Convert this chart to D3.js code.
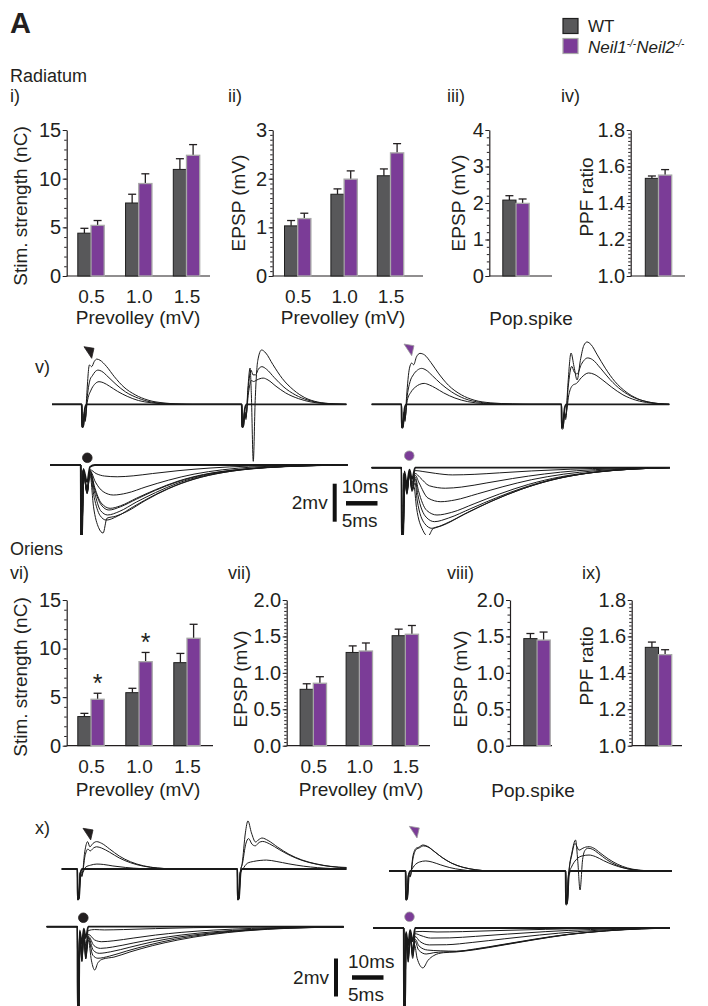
<!DOCTYPE html>
<html>
<head>
<meta charset="utf-8">
<script src="https://cdn.jsdelivr.net/npm/d3@7"></script>
<style>
  body { margin: 0; background: #fff; }
  svg text { font-family: "Liberation Sans", Arial, Helvetica, sans-serif; fill: #231f20; }
</style>
</head>
<body>
<svg id="fig" width="708" height="1006"></svg>
<script>
// ---------- bar chart values ----------
const doses = ["0.5", "1.0", "1.5"];
const popCat = ["Pop.spike"];

// Radiatum
const radStimWT = [4.4, 7.5, 10.95], radStimWTErr = [0.5, 0.9, 1.1];
const radStimKO = [5.2, 9.5, 12.4],  radStimKOErr = [0.5, 1.0, 1.1];
const radEpspWT = [1.03, 1.68, 2.06], radEpspWTErr = [0.11, 0.11, 0.14];
const radEpspKO = [1.18, 1.99, 2.53], radEpspKOErr = [0.11, 0.17, 0.19];
const radPopWT = [2.08], radPopWTErr = [0.12];
const radPopKO = [1.99], radPopKOErr = [0.12];
const radPpfWT = [1.535], radPpfWTErr = [0.013];
const radPpfKO = [1.553], radPpfKOErr = [0.03];

// Oriens
const oriStimWT = [3.0, 5.46, 8.55], oriStimWTErr = [0.33, 0.45, 0.95];
const oriStimKO = [4.78, 8.65, 11.06], oriStimKOErr = [0.62, 0.95, 1.44];
const oriStimStars = ["0.5", "1.0"];
const oriEpspWT = [0.774, 1.28, 1.51], oriEpspWTErr = [0.076, 0.09, 0.09];
const oriEpspKO = [0.857, 1.30, 1.53], oriEpspKOErr = [0.09, 0.11, 0.12];
const oriPopWT = [1.47], oriPopWTErr = [0.07];
const oriPopKO = [1.45], oriPopKOErr = [0.11];
const oriPpfWT = [1.54], oriPpfWTErr = [0.029];
const oriPpfKO = [1.50], oriPpfKOErr = [0.027];

// tick labels
const stimTicks = [0, 5, 10, 15];
const radEpspTicks = [0, 1, 2, 3];
const radPopTicks = [0, 1, 2, 3, 4];
const ppfTicks = [1.0, 1.2, 1.4, 1.6, 1.8];
const oriEpspTicks = [0, 0.5, 1.0, 1.5, 2.0];

// ---------- example traces: [time ms, mV] ----------
// Radiatum, paired pulse, WT
const radTopWT = [
  [[0,0],[9.3,0],[9.4,-1.2],[9.8,-1.2],[10.1,-0.5],[10.4,-0.9],[10.8,0.3],[11.7,2.07],[12.4,1.98],[13.2,2.25],[14,2.38],[15,2.32],[17,2.0],[19.5,1.45],[22.5,0.9],[26,0.5],[30,0.22],[35,0.07],[42,0],[59.3,0],[59.4,-1.2],[59.8,-1.2],[60.2,-0.4],[60.6,-0.8],[61.2,0.8],[61.9,1.91],[62.3,0.5],[62.9,-3.0],[63.5,0.2],[64.3,2.3],[65.5,2.86],[66.8,2.7],[69,2.1],[72,1.35],[75.5,0.75],[79,0.35],[83,0.12],[88,0.02],[92,0]],
  [[0,0],[9.3,0],[9.4,-1.2],[9.8,-1.1],[10.1,-0.5],[10.4,-0.8],[10.9,0.2],[11.9,1.3],[12.6,1.5],[13.5,1.72],[14.4,1.8],[15.5,1.74],[17.5,1.45],[20,1.05],[23,0.65],[27,0.32],[31,0.12],[37,0.03],[44,0],[59.3,0],[59.4,-1.2],[59.8,-1.1],[60.2,-0.4],[60.6,-0.7],[61.3,0.8],[62.2,1.8],[62.8,1.55],[63.6,1.55],[64.5,1.85],[65.6,1.98],[67,1.85],[69.5,1.4],[72.5,0.9],[76,0.5],[80,0.22],[85,0.06],[92,0]],
  [[0,0],[9.3,0],[9.4,-1.1],[9.8,-1.0],[10.1,-0.4],[10.4,-0.7],[11,0.1],[12.2,0.75],[13.3,1.05],[14.7,1.19],[16,1.14],[18,0.95],[20.5,0.68],[23.5,0.42],[27,0.2],[31,0.08],[37,0.01],[44,0],[59.3,0],[59.4,-1.1],[59.8,-1.0],[60.2,-0.4],[60.6,-0.6],[61.4,0.6],[62.3,1.25],[63,1.2],[64,1.28],[65,1.35],[66,1.38],[67.5,1.28],[70,0.95],[73,0.6],[77,0.3],[81,0.12],[86,0.03],[92,0]],
  [[0,0],[9.3,0],[9.4,-1.2],[9.8,-1.1],[10.3,-0.2],[10.8,0],[59.3,0],[59.4,-1.2],[59.8,-1.1],[60.3,-0.2],[60.8,0],[92,0]]
];
// Radiatum, paired pulse, Neil1/Neil2 KO
const radTopKO = [
  [[0,0],[9.3,0],[9.4,-1.25],[9.8,-1.25],[10.1,-0.5],[10.4,-0.9],[10.9,0.4],[11.8,1.9],[12.5,2.17],[13.1,2.08],[14,2.5],[15.1,2.68],[16.5,2.6],[18.5,2.2],[21,1.6],[24,1.0],[28,0.5],[32,0.22],[37,0.08],[44,0.02],[50,0],[59.3,0],[59.4,-1.3],[59.8,-1.3],[60.2,-0.5],[60.6,-0.8],[61.3,1.0],[62.3,2.7],[63.2,2.0],[64.2,1.28],[65.2,2.3],[66.3,3.1],[67.3,3.28],[68.5,3.15],[70.5,2.6],[73,1.9],[76,1.2],[79.5,0.65],[83,0.3],[87,0.1],[93,0]],
  [[0,0],[9.3,0],[9.4,-1.2],[9.8,-1.2],[10.1,-0.5],[10.4,-0.8],[11,0.3],[12,1.2],[13,1.55],[14.3,1.8],[15.6,1.89],[17,1.8],[19,1.5],[21.5,1.1],[25,0.65],[29,0.3],[34,0.1],[40,0.02],[48,0],[59.3,0],[59.4,-1.25],[59.8,-1.2],[60.2,-0.5],[60.6,-0.7],[61.4,0.9],[62.5,2.0],[63.3,1.7],[64.2,1.6],[65.5,2.1],[67.5,2.44],[69,2.35],[71.5,1.9],[74.5,1.3],[78,0.75],[82,0.35],[86.5,0.12],[93,0]],
  [[0,0],[9.3,0],[9.4,-1.2],[9.8,-1.1],[10.1,-0.4],[10.4,-0.7],[11.1,0.2],[12.3,0.65],[13.6,0.9],[15,1.05],[16.4,1.1],[18,1.02],[20,0.85],[22.5,0.6],[26,0.33],[30,0.14],[35,0.04],[42,0],[59.3,0],[59.4,-1.2],[59.8,-1.1],[60.2,-0.4],[60.6,-0.6],[61.6,0.5],[62.8,1.0],[64,1.1],[65.5,1.4],[67.8,1.65],[69.5,1.58],[72,1.3],[75,0.9],[78.5,0.5],[82.5,0.22],[87,0.07],[93,0]],
  [[0,0],[9.3,0],[9.4,-1.2],[9.8,-1.1],[10.3,-0.2],[10.8,0],[59.3,0],[59.4,-1.2],[59.8,-1.1],[60.3,-0.2],[60.8,0],[93,0]]
];
// Radiatum, input-output field responses, WT
const radBotWT = [
  [[0,0],[4.8,0],[4.85,-4],[5.0,-4],[5.2,-0.2],[5.8,-0.9],[6.25,-0.1],[7,0],[46.5,0]],
  [[0,0],[4.8,0],[4.85,-4],[5.0,-4],[5.2,-0.25],[5.8,-1.2],[6.25,-0.25],[7.2,-0.45],[8.5,-0.58],[10.5,-0.62],[13,-0.57],[16,-0.45],[20,-0.3],[25,-0.16],[31,-0.06],[38,-0.02],[46.5,0]],
  [[0,0],[4.8,0],[4.85,-4],[5.0,-4],[5.2,-0.3],[5.8,-1.3],[6.25,-0.3],[7.1,-0.9],[8.3,-1.4],[9.9,-1.58],[12,-1.48],[15,-1.15],[18.5,-0.8],[22.5,-0.48],[27,-0.25],[32,-0.1],[39,-0.03],[46.5,0]],
  [[0,0],[4.8,0],[4.85,-4],[5.0,-4],[5.2,-0.3],[5.8,-1.4],[6.25,-0.3],[7.0,-1.2],[8.0,-2.0],[9.4,-2.28],[11,-2.15],[13.5,-1.75],[16.5,-1.3],[20,-0.85],[24,-0.5],[28.5,-0.27],[34,-0.12],[40,-0.04],[46.5,0]],
  [[0,0],[4.8,0],[4.85,-4],[5.0,-4],[5.2,-0.3],[5.8,-1.4],[6.25,-0.35],[7.0,-1.3],[8.0,-2.1],[9.2,-2.37],[11,-2.2],[13.5,-1.8],[16.5,-1.33],[20,-0.88],[24,-0.52],[28.5,-0.28],[34,-0.12],[40,-0.04],[46.5,0]],
  [[0,0],[4.8,0],[4.85,-4],[5.0,-4],[5.2,-0.3],[5.8,-1.45],[6.25,-0.4],[7.0,-1.5],[7.9,-2.4],[9.0,-2.63],[10.8,-2.45],[13.5,-1.95],[16.5,-1.45],[20,-0.95],[24,-0.56],[28.5,-0.3],[34,-0.13],[40,-0.04],[46.5,0]],
  [[0,0],[4.8,0],[4.85,-4],[5.0,-4],[5.2,-0.35],[5.8,-1.5],[6.25,-0.45],[6.9,-1.7],[7.8,-2.65],[8.8,-2.9],[10.5,-2.7],[13,-2.2],[16.5,-1.55],[20,-1.02],[24,-0.6],[28.5,-0.32],[34,-0.14],[40,-0.05],[46.5,0]],
  [[0,0],[4.8,0],[4.85,-4],[5.0,-4],[5.2,-0.35],[5.8,-1.5],[6.25,-0.5],[6.8,-2.2],[7.6,-3.3],[8.3,-3.58],[8.9,-2.8],[10.2,-2.7],[12,-2.45],[15,-1.85],[18.5,-1.25],[22.5,-0.75],[27,-0.4],[32,-0.18],[38,-0.06],[46.5,0]]
];
// Radiatum, input-output field responses, KO
const radBotKO = [
  [[0,0],[4.65,0],[4.7,-4],[4.9,-4],[5.1,-0.2],[5.5,-0.9],[5.9,-0.1],[6.3,-0.6],[6.8,0],[8,0],[46.6,0]],
  [[0,0],[4.65,0],[4.7,-4],[4.9,-4],[5.1,-0.3],[5.5,-1.0],[5.9,-0.2],[6.3,-0.8],[6.8,-0.15],[8,-0.2],[10,-0.3],[12.6,-0.38],[16,-0.35],[20,-0.27],[25,-0.17],[31,-0.08],[38,-0.02],[46.6,0]],
  [[0,0],[4.65,0],[4.7,-4],[4.9,-4],[5.1,-0.3],[5.5,-1.1],[5.9,-0.2],[6.3,-0.9],[6.8,-0.3],[7.5,-0.5],[9,-0.95],[11.5,-1.08],[14,-1.02],[18,-0.8],[22,-0.57],[27,-0.33],[32,-0.16],[38,-0.06],[46.6,0]],
  [[0,0],[4.65,0],[4.7,-4],[4.9,-4],[5.1,-0.3],[5.5,-1.2],[5.9,-0.25],[6.3,-1.0],[6.8,-0.4],[7.4,-0.8],[8.8,-1.6],[10.8,-1.79],[13,-1.7],[16.5,-1.38],[20.5,-1.0],[25,-0.63],[30,-0.34],[35,-0.16],[41,-0.05],[46.6,0]],
  [[0,0],[4.65,0],[4.7,-4],[4.9,-4],[5.1,-0.3],[5.5,-1.25],[5.9,-0.3],[6.3,-1.1],[6.8,-0.5],[7.3,-1.2],[8.6,-2.25],[10.2,-2.49],[12.5,-2.35],[16,-1.9],[20,-1.38],[24.5,-0.88],[29.5,-0.48],[35,-0.22],[41,-0.07],[46.6,0]],
  [[0,0],[4.65,0],[4.7,-4],[4.9,-4],[5.1,-0.3],[5.5,-1.3],[5.9,-0.3],[6.3,-1.15],[6.8,-0.6],[7.2,-1.4],[8.5,-2.6],[9.8,-2.84],[12,-2.65],[15.5,-2.15],[19.5,-1.58],[24,-1.02],[29,-0.56],[34.5,-0.26],[40.5,-0.08],[46.6,0]],
  [[0,0],[4.65,0],[4.7,-4],[4.9,-4],[5.1,-0.35],[5.5,-1.35],[5.9,-0.35],[6.3,-1.2],[6.8,-0.8],[7.1,-1.7],[8.3,-2.95],[9.4,-3.19],[11.5,-2.95],[15,-2.35],[19,-1.72],[23.5,-1.12],[28.5,-0.62],[34,-0.28],[40,-0.09],[46.6,0]],
  [[0,0],[4.65,0],[4.7,-4],[4.9,-4],[5.1,-0.35],[5.5,-1.4],[5.9,-0.4],[6.3,-1.25],[6.6,-1.0],[7.0,-2.1],[8.0,-3.3],[8.8,-3.6],[9.6,-3.2],[11,-3.05],[14.5,-2.45],[18.5,-1.8],[23,-1.18],[28,-0.66],[33.5,-0.3],[39.5,-0.1],[46.6,0]]
];
// Oriens, paired pulse, WT
const oriTopWT = [
  [[0,0],[4.9,0],[5.0,-1.63],[5.4,-1.6],[5.8,-0.2],[6.3,-0.4],[7.2,0.9],[8.1,1.44],[8.8,1.17],[9.8,1.35],[10.9,1.44],[12.5,1.35],[15,1.05],[18,0.68],[21.5,0.38],[25.5,0.17],[30,0.05],[36,0],[54.9,0],[55.0,-1.63],[55.4,-1.6],[55.8,-0.2],[56.4,0.3],[57.4,1.9],[58.2,2.53],[59.3,1.9],[60.6,1.42],[61.6,1.55],[62.6,1.63],[64.5,1.5],[67.5,1.15],[71,0.78],[75,0.48],[79.5,0.27],[84,0.14],[89,0.08]],
  [[0,0],[4.9,0],[5.0,-1.6],[5.4,-1.55],[5.8,-0.2],[6.3,-0.35],[7.3,0.7],[8.2,1.05],[8.9,0.95],[9.9,1.1],[10.9,1.17],[12.5,1.1],[15,0.88],[18,0.58],[21.5,0.33],[25.5,0.15],[30,0.05],[36,0],[54.9,0],[55.0,-1.6],[55.4,-1.55],[55.8,-0.2],[56.5,0.3],[57.5,1.3],[58.4,1.6],[59.5,1.3],[60.5,1.22],[61.7,1.4],[62.8,1.45],[65,1.32],[68,1.02],[71.5,0.7],[75.5,0.43],[80,0.24],[84.5,0.12],[89,0.06]],
  [[0,0],[4.9,0],[5.0,-1.55],[5.4,-1.5],[5.8,-0.2],[6.4,-0.2],[7.5,0.1],[9,0.2],[11,0.26],[13,0.24],[16,0.16],[20,0.08],[25,0.02],[30,0],[54.9,0],[55.0,-1.55],[55.4,-1.5],[55.8,-0.2],[56.6,0],[58,0.3],[60,0.4],[62,0.45],[64,0.47],[67,0.4],[71,0.27],[75.5,0.15],[80,0.07],[85,0.02],[89,0]],
  [[0,0],[4.9,0],[5.0,-1.6],[5.4,-1.5],[5.9,-0.2],[6.4,0],[54.9,0],[55.0,-1.6],[55.4,-1.5],[55.9,-0.2],[56.4,0],[89,0]]
];
// Oriens, paired pulse, KO
const oriTopKO = [
  [[0,0],[5.2,0],[5.3,-1.53],[5.7,-1.5],[6.1,-0.2],[6.6,-0.3],[7.5,0.8],[8.5,1.2],[9.3,1.25],[10.6,1.37],[12,1.3],[14,1.05],[16.5,0.72],[19.5,0.42],[23,0.2],[27,0.07],[32,0],[55.2,0],[55.3,-1.79],[55.7,-1.75],[56.1,-0.3],[57.2,1.0],[58.3,1.63],[59.0,0.5],[59.7,-1.0],[60.5,0.6],[61.3,1.1],[62.2,1.2],[63.5,1.15],[65.5,0.92],[68,0.6],[71,0.32],[74,0.14],[77,0.05],[82,0],[88.4,0]],
  [[0,0],[5.2,0],[5.3,-1.5],[5.7,-1.45],[6.1,-0.2],[6.6,-0.3],[7.6,0.75],[8.6,1.15],[9.5,1.22],[10.8,1.32],[12.2,1.26],[14.2,1.02],[16.7,0.7],[19.7,0.4],[23.2,0.19],[27.2,0.06],[32,0],[55.2,0],[55.3,-1.75],[55.7,-1.7],[56.1,-0.3],[57.2,0.9],[58.1,1.45],[59.4,1.1],[60.6,1.2],[61.5,1.26],[62.6,1.28],[64,1.2],[66,0.95],[68.5,0.64],[71.5,0.35],[74.5,0.16],[78,0.05],[83,0],[88.4,0]],
  [[0,0],[5.2,0],[5.3,-1.5],[5.7,-1.45],[6.1,-0.2],[6.8,0],[8,0.3],[9.5,0.47],[11.5,0.53],[13.5,0.47],[16,0.33],[19,0.18],[22.5,0.07],[27,0],[55.2,0],[55.3,-1.7],[55.7,-1.65],[56.1,-0.2],[57,0.2],[58.5,0.6],[60.5,0.8],[62.5,0.84],[64.5,0.76],[67,0.55],[70,0.33],[73.5,0.15],[77,0.05],[82,0],[88.4,0]],
  [[0,0],[5.2,0],[5.3,-1.5],[5.7,-1.4],[6.2,-0.2],[6.7,0],[55.2,0],[55.3,-1.7],[55.7,-1.6],[56.2,-0.2],[56.7,0],[88.4,0]]
];
// Oriens, input-output field responses, WT
const oriBotWT = [
  [[0,0],[4.8,0],[4.84,-4.5],[5.0,-4.5],[5.15,-0.2],[5.5,-0.9],[5.8,-0.1],[6.1,-0.6],[6.5,0],[8,0],[46.4,0]],
  [[0,0],[4.8,0],[4.84,-4.5],[5.0,-4.5],[5.15,-0.3],[5.5,-1.2],[5.8,-0.3],[6.1,-1.0],[6.5,-0.2],[7.5,-0.15],[9,-0.17],[12,-0.15],[17,-0.1],[23,-0.05],[30,-0.02],[46.4,0]],
  [[0,0],[4.8,0],[4.84,-4.5],[5.0,-4.5],[5.15,-0.3],[5.5,-1.4],[5.8,-0.4],[6.1,-1.2],[6.5,-0.4],[7.5,-0.7],[8.6,-0.79],[10.5,-0.74],[13.5,-0.6],[17,-0.44],[21,-0.3],[26,-0.18],[32,-0.09],[39,-0.03],[46.4,-0.01]],
  [[0,0],[4.8,0],[4.84,-4.5],[5.0,-4.5],[5.15,-0.3],[5.5,-1.6],[5.8,-0.45],[6.1,-1.4],[6.5,-0.5],[7.4,-1.0],[8.4,-1.14],[10.3,-1.07],[13.5,-0.86],[17,-0.64],[21,-0.44],[26,-0.27],[32,-0.14],[39,-0.05],[46.4,-0.01]],
  [[0,0],[4.8,0],[4.84,-4.5],[5.0,-4.5],[5.15,-0.35],[5.5,-1.7],[5.8,-0.45],[6.1,-1.55],[6.5,-0.55],[7.3,-1.25],[8.2,-1.4],[10,-1.32],[13,-1.08],[16.5,-0.8],[20.5,-0.55],[25.5,-0.34],[31.5,-0.17],[38.5,-0.06],[46.4,-0.02]],
  [[0,0],[4.8,0],[4.84,-4.5],[5.0,-4.5],[5.15,-0.35],[5.5,-1.8],[5.8,-0.45],[6.1,-1.66],[6.5,-0.6],[7.2,-1.5],[8.0,-1.66],[9.8,-1.55],[12.5,-1.28],[16,-0.96],[20,-0.66],[25,-0.4],[31,-0.2],[38,-0.07],[46.4,-0.02]],
  [[0,0],[4.8,0],[4.84,-4.5],[5.0,-4.5],[5.15,-0.35],[5.5,-1.84],[5.8,-0.44],[6.1,-1.7],[6.5,-0.7],[7.0,-1.8],[7.5,-2.28],[8.0,-1.9],[8.8,-1.7],[10.5,-1.6],[13,-1.33],[16.5,-1.0],[20.5,-0.7],[25.5,-0.42],[31,-0.22],[38,-0.08],[46.4,-0.02]]
];
// Oriens, input-output field responses, KO
const oriBotKO = [
  [[0,0],[4.8,0],[4.84,-4.5],[5.0,-4.5],[5.15,-0.2],[5.5,-0.9],[5.8,-0.1],[6.2,-0.7],[6.6,0],[8,0],[46.4,0]],
  [[0,0],[4.8,0],[4.84,-4.5],[5.0,-4.5],[5.15,-0.3],[5.5,-1.3],[5.8,-0.3],[6.2,-1.1],[6.6,-0.2],[7.8,-0.18],[10,-0.21],[14,-0.19],[20,-0.13],[27,-0.07],[35,-0.02],[46.4,0]],
  [[0,0],[4.8,0],[4.84,-4.5],[5.0,-4.5],[5.15,-0.3],[5.5,-1.4],[5.8,-0.35],[6.2,-1.2],[6.6,-0.3],[7.5,-0.4],[9,-0.53],[12,-0.52],[16,-0.44],[21,-0.32],[27,-0.19],[34,-0.08],[41,-0.02],[46.4,0]],
  [[0,0],[4.8,0],[4.84,-4.5],[5.0,-4.5],[5.15,-0.3],[5.5,-1.5],[5.8,-0.4],[6.2,-1.3],[6.6,-0.45],[7.3,-0.7],[8.8,-0.89],[11.5,-0.88],[15.5,-0.76],[20.5,-0.57],[26,-0.37],[32,-0.19],[38,-0.07],[46.4,0]],
  [[0,0],[4.8,0],[4.84,-4.5],[5.0,-4.5],[5.15,-0.35],[5.5,-1.6],[5.8,-0.45],[6.2,-1.4],[6.6,-0.6],[7.2,-0.95],[8.5,-1.16],[10.5,-1.2],[13,-1.22],[16,-1.1],[20,-0.88],[25,-0.6],[30.5,-0.33],[36.5,-0.14],[42,-0.04],[46.4,0]],
  [[0,0],[4.8,0],[4.84,-4.5],[5.0,-4.5],[5.15,-0.35],[5.5,-1.7],[5.8,-0.5],[6.2,-1.5],[6.6,-0.7],[7.1,-1.15],[8.3,-1.37],[9.5,-1.3],[11,-1.26],[13,-1.24],[16,-1.12],[20,-0.9],[25,-0.62],[30.5,-0.34],[36.5,-0.15],[42,-0.04],[46.4,0]],
  [[0,0],[4.8,0],[4.84,-4.5],[5.0,-4.5],[5.15,-0.4],[5.5,-1.8],[5.8,-0.55],[6.2,-1.6],[6.5,-0.9],[6.9,-1.6],[7.8,-2.1],[8.6,-1.7],[9.5,-1.45],[11,-1.3],[13,-1.26],[16,-1.14],[20,-0.92],[25,-0.63],[30.5,-0.35],[36.5,-0.15],[42,-0.05],[46.4,0]]
];

// marker positions on the traces [time ms, mV]
const radArrowWT = [12.4, 2.42], radArrowKO = [12.5, 2.56];
const radDotWT = [5.83, 0.38], radDotKO = [5.87, 0.63];
const oriArrowWT = [9.06, 1.53], oriArrowKO = [8.75, 1.74];
const oriDotWT = [5.72, 0.47], oriDotKO = [5.7, 0.59];

// ---------- drawing ----------
const WT_FILL = "#58585a", WT_STROKE = "#1f1f1f";
const KO_FILL = "#7b3c97", KO_STROKE = "#a8a8a8";
const INK = "#231f20";
const FONT = '"Liberation Sans", Arial, Helvetica, sans-serif';

const svg = d3.select("#fig");

// panel / section labels
const labels = [
  ["Radiatum", 10, 82], ["i)", 10, 102], ["ii)", 228, 102], ["iii)", 447, 102], ["iv)", 561, 102],
  ["v)", 35, 373],
  ["Oriens", 10, 555], ["vi)", 10, 579], ["vii)", 228, 579], ["viii)", 447, 579], ["ix)", 582, 579],
  ["x)", 35, 834]
];
svg.append("text").attr("x", 10).attr("y", 33).attr("font-size", 29).attr("font-weight", "bold").text("A");
svg.selectAll("text.lab").data(labels).join("text").attr("class", "lab")
  .attr("x", d => d[1]).attr("y", d => d[2]).attr("font-size", 18).text(d => d[0]);

// legend
const legend = svg.append("g");
legend.append("rect").attr("x", 563).attr("y", 18.5).attr("width", 15).attr("height", 15)
  .attr("fill", WT_FILL).attr("stroke", WT_STROKE).attr("stroke-width", 1.2);
legend.append("rect").attr("x", 563).attr("y", 38.5).attr("width", 15).attr("height", 15)
  .attr("fill", KO_FILL).attr("stroke", KO_STROKE).attr("stroke-width", 1.2);
legend.append("text").attr("x", 588).attr("y", 32).attr("font-size", 17).text("WT");
const koLab = legend.append("text").attr("x", 588).attr("y", 52.5).attr("font-size", 17).attr("font-style", "italic");
koLab.append("tspan").text("Neil1");
koLab.append("tspan").attr("font-size", 10).attr("dy", -6).text("-/-");
koLab.append("tspan").attr("dy", 6).text("Neil2");
koLab.append("tspan").attr("font-size", 10).attr("dy", -6).text("-/-");

function barPanel(p) {
  const g = svg.append("g");
  const y = d3.scaleLinear().domain(p.yDomain).range([p.bottom, p.top]);
  const x = d3.scalePoint().domain(p.cats).range(p.centers);
  const bw = 13.2;

  // minor ticks
  g.append("g").attr("transform", `translate(${p.axisX},0)`)
    .call(d3.axisLeft(y).tickValues(p.minor).tickSize(2.5).tickFormat(""))
    .call(s => s.select(".domain").remove())
    .call(s => s.selectAll("line").attr("stroke", INK));
  // major ticks + labels
  g.append("g").attr("transform", `translate(${p.axisX},0)`)
    .call(d3.axisLeft(y).tickValues(p.ticks).tickSize(4).tickSizeOuter(0).tickPadding(1.5).tickFormat(p.fmt))
    .call(s => s.select(".domain").attr("stroke", INK).attr("stroke-width", 1.2))
    .call(s => s.selectAll("line").attr("stroke", INK))
    .call(s => s.selectAll("text").attr("font-size", 20).attr("font-family", FONT).attr("fill", INK));
  // x axis line
  g.append("line").attr("x1", p.axisX).attr("x2", p.xEnd)
    .attr("y1", y(p.yDomain[0])).attr("y2", y(p.yDomain[0]))
    .attr("stroke", INK).attr("stroke-width", 1.2);
  if (p.showCats) {
    g.append("g").attr("transform", `translate(0,${y(p.yDomain[0])})`)
      .call(d3.axisBottom(x).tickSize(0).tickPadding(13.5))
      .call(s => s.select(".domain").remove())
      .call(s => s.selectAll("text").attr("font-size", 19).attr("font-family", FONT).attr("fill", INK));
  }

  const series = [
    { vals: p.wt, errs: p.wtErr, off: -bw, fill: WT_FILL, stroke: WT_STROKE, sw: 1 },
    { vals: p.ko, errs: p.koErr, off: 0, fill: KO_FILL, stroke: KO_STROKE, sw: 1.3 }
  ];
  series.forEach(s => {
    const rows = p.cats.map((c, i) => ({ c, v: s.vals[i], e: s.errs[i] }));
    // error bars (drawn under the bars)
    g.selectAll(null).data(rows).join("line")
      .attr("x1", d => x(d.c) + s.off + bw / 2).attr("x2", d => x(d.c) + s.off + bw / 2)
      .attr("y1", d => y(d.v)).attr("y2", d => y(d.v + d.e))
      .attr("stroke", INK).attr("stroke-width", 1.3);
    g.selectAll(null).data(rows).join("line")
      .attr("x1", d => x(d.c) + s.off + bw / 2 - 4).attr("x2", d => x(d.c) + s.off + bw / 2 + 4)
      .attr("y1", d => y(d.v + d.e)).attr("y2", d => y(d.v + d.e))
      .attr("stroke", INK).attr("stroke-width", 1.3);
    g.selectAll(null).data(rows).join("rect")
      .attr("x", d => x(d.c) + s.off).attr("width", bw)
      .attr("y", d => y(d.v)).attr("height", d => y(p.yDomain[0]) - y(d.v))
      .attr("fill", s.fill).attr("stroke", s.stroke).attr("stroke-width", s.sw);
  });

  if (p.stars) {
    g.selectAll(null).data(p.stars).join("text")
      .attr("x", c => x(c) + bw / 2).attr("text-anchor", "middle")
      .attr("y", c => { const i = p.cats.indexOf(c); return y(p.ko[i] + p.koErr[i]) - 1; })
      .attr("font-size", 25).text("*");
  }

  // axis titles
  g.append("text").attr("transform", `translate(${p.yLab[0]},${p.yLab[1]}) rotate(-90)`)
    .attr("text-anchor", "middle").attr("font-size", 19).text(p.yTitle);
  if (p.xTitle) {
    g.append("text").attr("x", p.xLab[0]).attr("y", p.xLab[1])
      .attr("text-anchor", "middle").attr("font-size", 19).text(p.xTitle);
  }
}

const fmtInt = d3.format("d"), fmt1 = d3.format(".1f");

// Radiatum row
barPanel({ axisX: 66.7, top: 130, bottom: 276, xEnd: 210, yDomain: [0, 15], ticks: stimTicks, minor: d3.range(0, 15.01, 1), fmt: fmtInt,
  cats: doses, centers: [91, 186.5], showCats: true, wt: radStimWT, wtErr: radStimWTErr, ko: radStimKO, koErr: radStimKOErr,
  yTitle: "Stim. strength (nC)", yLab: [27, 206], xTitle: "Prevolley (mV)", xLab: [138, 324] });
barPanel({ axisX: 272.7, top: 130, bottom: 276, xEnd: 423, yDomain: [0, 3], ticks: radEpspTicks, minor: d3.range(0, 3.001, 0.1), fmt: fmtInt,
  cats: doses, centers: [297.7, 390.5], showCats: true, wt: radEpspWT, wtErr: radEpspWTErr, ko: radEpspKO, koErr: radEpspKOErr,
  yTitle: "EPSP (mV)", yLab: [245, 203], xTitle: "Prevolley (mV)", xLab: [343, 324] });
barPanel({ axisX: 489.3, top: 130, bottom: 276, xEnd: 552, yDomain: [0, 4], ticks: radPopTicks, minor: d3.range(0, 4.001, 0.2), fmt: fmtInt,
  cats: popCat, centers: [516, 516], showCats: false, wt: radPopWT, wtErr: radPopWTErr, ko: radPopKO, koErr: radPopKOErr,
  yTitle: "EPSP (mV)", yLab: [465, 203], xTitle: "Pop.spike", xLab: [531, 325] });
barPanel({ axisX: 630.7, top: 130, bottom: 276, xEnd: 685, yDomain: [1, 1.8], ticks: ppfTicks, minor: d3.range(1, 1.8001, 0.02), fmt: fmt1,
  cats: popCat, centers: [658.5, 658.5], showCats: false, wt: radPpfWT, wtErr: radPpfWTErr, ko: radPpfKO, koErr: radPpfKOErr,
  yTitle: "PPF ratio", yLab: [593, 197] });

// Oriens row
barPanel({ axisX: 66.7, top: 600, bottom: 745.7, xEnd: 213, yDomain: [0, 15], ticks: stimTicks, minor: d3.range(0, 15.01, 1), fmt: fmtInt,
  cats: doses, centers: [91, 187], showCats: true, wt: oriStimWT, wtErr: oriStimWTErr, ko: oriStimKO, koErr: oriStimKOErr,
  stars: oriStimStars, yTitle: "Stim. strength (nC)", yLab: [27, 677], xTitle: "Prevolley (mV)", xLab: [138, 796] });
barPanel({ axisX: 286.7, top: 600, bottom: 745.7, xEnd: 430, yDomain: [0, 2], ticks: oriEpspTicks, minor: d3.range(0, 2.001, 0.05), fmt: fmt1,
  cats: doses, centers: [313.3, 405.3], showCats: true, wt: oriEpspWT, wtErr: oriEpspWTErr, ko: oriEpspKO, koErr: oriEpspKOErr,
  yTitle: "EPSP (mV)", yLab: [247, 679], xTitle: "Prevolley (mV)", xLab: [361, 796] });
barPanel({ axisX: 510, top: 600, bottom: 745.7, xEnd: 552, yDomain: [0, 2], ticks: oriEpspTicks, minor: d3.range(0, 2.001, 0.1), fmt: fmt1,
  cats: popCat, centers: [537, 537], showCats: false, wt: oriPopWT, wtErr: oriPopWTErr, ko: oriPopKO, koErr: oriPopKOErr,
  yTitle: "EPSP (mV)", yLab: [467, 679], xTitle: "Pop.spike", xLab: [533, 797] });
barPanel({ axisX: 631.7, top: 600, bottom: 745.7, xEnd: 682, yDomain: [1, 1.8], ticks: ppfTicks, minor: d3.range(1, 1.8001, 0.02), fmt: fmt1,
  cats: popCat, centers: [658.5, 658.5], showCats: false, wt: oriPpfWT, wtErr: oriPpfWTErr, ko: oriPpfKO, koErr: oriPpfKOErr,
  yTitle: "PPF ratio", yLab: [593, 666] });

// ---------- traces ----------
const PX_PER_MV = 19;
let clipId = 0;
function traceBlock(b) {
  const x = d3.scaleLinear().domain([0, b.tMax]).range([b.x0, b.x0 + b.tMax * b.pxPerMs]);
  const y = d3.scaleLinear().domain([0, 1]).range([b.base, b.base - PX_PER_MV]);
  const g = svg.append("g");
  const inner = g.append("g");
  if (b.clipY) {
    const id = "clip" + (clipId++);
    svg.append("clipPath").attr("id", id).append("rect")
      .attr("x", b.x0 - 5).attr("y", b.base - 120).attr("width", b.tMax * b.pxPerMs + 10).attr("height", b.clipY - (b.base - 120));
    inner.attr("clip-path", `url(#${id})`);
  }
  const line = d3.line().x(d => x(d[0])).y(d => y(d[1])).curve(d3.curveMonotoneX);
  inner.selectAll("path").data(b.traces).join("path")
    .attr("d", line).attr("fill", "none").attr("stroke", "#1a1a1a")
    .attr("stroke-width", (d, i) => i === b.flatIndex ? 1.8 : 1)
    .attr("stroke-linejoin", "round");
  if (b.arrow) {
    g.append("path").attr("d", "M-7.7,-11.6 L2.3,-10 L0,0 Z")
      .attr("transform", `translate(${x(b.arrow[0])},${y(b.arrow[1])})`)
      .attr("fill", b.markFill).attr("stroke", b.markStroke).attr("stroke-width", 0.8);
  }
  if (b.dot) {
    g.append("circle").attr("cx", x(b.dot[0])).attr("cy", y(b.dot[1])).attr("r", 4.8)
      .attr("fill", b.markFill).attr("stroke", b.markStroke).attr("stroke-width", 0.8);
  }
}

traceBlock({ x0: 52, base: 404.3, tMax: 92, pxPerMs: 3.2, traces: radTopWT, flatIndex: 3, arrow: radArrowWT, markFill: INK, markStroke: INK });
traceBlock({ x0: 371.7, base: 404.3, tMax: 93, pxPerMs: 3.2, traces: radTopKO, flatIndex: 3, arrow: radArrowKO, markFill: KO_FILL, markStroke: "#9a9a9a" });
traceBlock({ x0: 50, base: 465, tMax: 46.5, pxPerMs: 6.4, traces: radBotWT, flatIndex: 0, clipY: 535, dot: radDotWT, markFill: INK, markStroke: INK });
traceBlock({ x0: 371.7, base: 467.7, tMax: 46.6, pxPerMs: 6.4, traces: radBotKO, flatIndex: 0, clipY: 535, dot: radDotKO, markFill: KO_FILL, markStroke: "#9a9a9a" });
traceBlock({ x0: 61.7, base: 869, tMax: 89, pxPerMs: 3.2, traces: oriTopWT, flatIndex: 3, arrow: oriArrowWT, markFill: INK, markStroke: INK });
traceBlock({ x0: 389, base: 871, tMax: 88.4, pxPerMs: 3.2, traces: oriTopKO, flatIndex: 3, arrow: oriArrowKO, markFill: KO_FILL, markStroke: "#9a9a9a" });
traceBlock({ x0: 46.7, base: 926.7, tMax: 46.4, pxPerMs: 6.4, traces: oriBotWT, flatIndex: 0, dot: oriDotWT, markFill: INK, markStroke: INK });
traceBlock({ x0: 373, base: 928, tMax: 46.4, pxPerMs: 6.4, traces: oriBotKO, flatIndex: 0, dot: oriDotKO, markFill: KO_FILL, markStroke: "#9a9a9a" });

// scale bars: 2 mV vertical, 10 ms (top) / 5 ms (bottom) horizontal
function scaleBar(vx, vBottom, hx, hy, tx) {
  const mv = d3.scaleLinear().domain([0, 2]).range([vBottom, vBottom - 2 * PX_PER_MV]);
  const ms = d3.scaleLinear().domain([0, 10]).range([hx, hx + 10 * 3.15]);
  const g = svg.append("g");
  g.append("line").attr("x1", vx).attr("x2", vx).attr("y1", mv(0)).attr("y2", mv(2))
    .attr("stroke", "#111").attr("stroke-width", 4);
  g.append("line").attr("x1", ms(0)).attr("x2", ms(10)).attr("y1", hy).attr("y2", hy)
    .attr("stroke", "#111").attr("stroke-width", 4.5);
  g.append("text").attr("x", vx - 7).attr("y", mv(1) + 6).attr("text-anchor", "end").attr("font-size", 19).text("2mv");
  g.append("text").attr("x", tx).attr("y", hy - 10).attr("font-size", 19).text("10ms");
  g.append("text").attr("x", tx).attr("y", hy + 23.5).attr("font-size", 19).text("5ms");
}
scaleBar(334.7, 521.7, 346, 503.3, 341.7);
scaleBar(336, 996.5, 352, 977.5, 348);
</script>
</body>
</html>
